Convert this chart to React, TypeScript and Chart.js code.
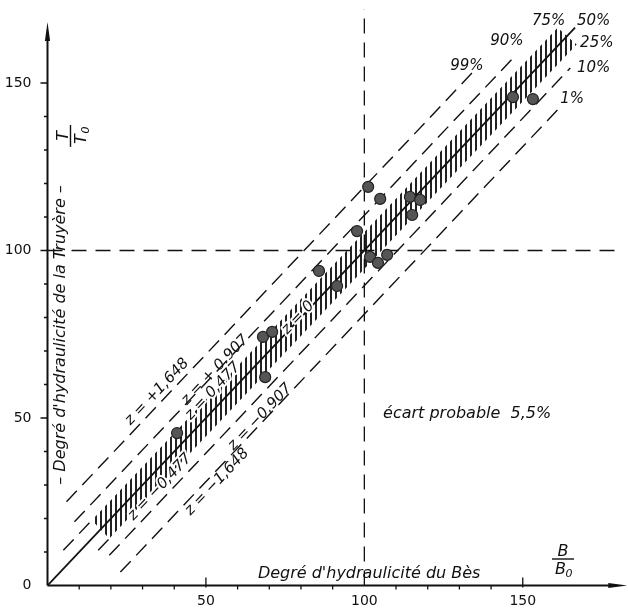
import { useEffect, useRef } from 'react';
import { Chart, registerables } from 'chart.js';

Chart.register(...registerables);

// ---- data ----
const pointsX = [101.2, 105.0, 97.7, 114.4, 117.6, 115.1, 101.8, 104.3, 107.2, 85.7, 91.4, 68.0, 70.9, 68.7, 40.9, 146.9, 153.2];
const pointsY = [119.0, 115.4, 105.8, 116.0, 115.1, 110.6, 98.1, 96.3, 98.7, 93.9, 89.4, 74.2, 75.7, 62.2, 45.5, 145.8, 145.2];

// lines y = x + offset  (z = +1,648 ... z = -1,648)
const lineOffsets = [19.0, 10.5, 5.5, 0, -5.5, -10.5, -19.0];
const lineStartX = [6, 8.5, 5, 0, 16, 19.5, 23];
const lineEndX = [135.5, 147, 14, 166.5, 19.5, 165, 162];
const lineDashed = [true, true, true, false, true, true, true];

// hatched band (z = ±0,477)
const bandOffset = 5.5;
const bandUpperX = [14, 161];
const bandLowerX = [19.5, 167];

const refX = 100;
const refY = 100;
const xTickLabels = [50, 100, 150];
const yTickLabels = [0, 50, 100, 150];
const minorTicks = [10, 20, 30, 40, 50, 60, 70, 80, 90, 100, 110, 120, 130, 140, 150];

const zLabels = ['z = +1,648', 'z = + 0,907', 'z = 0,477', 'z = 0', 'z = −0,477', 'z = −0,907', 'z = −1,648'];
const zLabelX = [34.6, 52.9, 52.2, 79.1, 35.5, 67.1, 53.5];
const zLabelY = [57.8, 64.3, 58.0, 79.9, 29.4, 50.3, 30.9];
const zLabelHalo = [false, false, true, true, true, false, false];

const pctLabels = ['99%', '90%', '75%', '50%', '25%', '10%', '1%'];
const pctX = [127.1, 139.7, 152.9, 167.1, 168.1, 167.1, 161.8];
const pctY = [153.9, 161.3, 167.3, 167.3, 160.7, 153.3, 144.0];

const ITAL = 'italic 15px "DejaVu Sans"';
const ITAL16 = 'italic 16px "DejaVu Sans"';

const decorPlugin = {
  id: 'decor',
  afterDraw(chart: any) {
    const ctx: CanvasRenderingContext2D = chart.ctx;
    const xs = chart.scales.x;
    const ys = chart.scales.y;
    const X = (v: number) => xs.getPixelForValue(v);
    const Y = (v: number) => ys.getPixelForValue(v);
    const angle = Math.atan2(Y(100) - Y(0), X(100) - X(0));
    ctx.save();
    ctx.fillStyle = '#111';
    ctx.strokeStyle = '#111';

    // axes
    ctx.lineWidth = 2;
    ctx.beginPath();
    ctx.moveTo(X(0), Y(0));
    ctx.lineTo(X(0), Y(165));
    ctx.moveTo(X(0), Y(0));
    ctx.lineTo(X(178), Y(0));
    ctx.stroke();
    // arrows
    const ay = Y(168.2);
    ctx.beginPath();
    ctx.moveTo(X(0), ay);
    ctx.lineTo(X(0) - 2.6, ay + 19);
    ctx.lineTo(X(0) + 2.6, ay + 19);
    ctx.closePath();
    ctx.fill();
    const ax = X(183);
    ctx.beginPath();
    ctx.moveTo(ax, Y(0));
    ctx.lineTo(ax - 19, Y(0) - 2.6);
    ctx.lineTo(ax - 19, Y(0) + 2.6);
    ctx.closePath();
    ctx.fill();

    // tick marks
    ctx.lineWidth = 1.3;
    ctx.beginPath();
    for (const v of minorTicks) {
      const major = yTickLabels.includes(v);
      ctx.moveTo(X(0) - (major ? 7 : 3.5), Y(v));
      ctx.lineTo(X(0), Y(v));
      const xm = xTickLabels.includes(v);
      if (v !== refX) {
        ctx.moveTo(X(v), Y(0) - (xm ? 8 : 0));
        ctx.lineTo(X(v), Y(0) + (xm ? 2 : 4));
      }
    }
    ctx.stroke();

    // z labels along lines
    for (let i = 0; i < zLabels.length; i++) {
      ctx.save();
      ctx.translate(X(zLabelX[i]), Y(zLabelY[i]));
      ctx.rotate(angle);
      ctx.font = ITAL;
      ctx.textAlign = 'center';
      ctx.textBaseline = 'middle';
      if (zLabelHalo[i]) {
        ctx.strokeStyle = '#fff';
        ctx.lineWidth = 4;
        ctx.lineJoin = 'round';
        ctx.strokeText(zLabels[i], 0, 0);
      }
      ctx.fillText(zLabels[i], 0, 0);
      ctx.restore();
    }

    // percentage labels
    ctx.font = ITAL;
    ctx.textAlign = 'left';
    ctx.textBaseline = 'alphabetic';
    for (let i = 0; i < pctLabels.length; i++) {
      ctx.fillText(pctLabels[i], X(pctX[i]), Y(pctY[i]));
    }

    // écart probable
    ctx.font = ITAL16;
    ctx.fillText('écart probable  5,5%', X(105.9), Y(49.9));

    // x axis title
    ctx.fillText("Degré d'hydraulicité du Bès", X(66.4), Y(2.2));

    const frac = (cx: number, cy: number, num: string, den: string, rot: number) => {
      ctx.save();
      ctx.translate(cx, cy);
      ctx.rotate(rot);
      ctx.font = ITAL16;
      ctx.textAlign = 'center';
      ctx.textBaseline = 'alphabetic';
      ctx.fillText(num, 0, -2);
      ctx.lineWidth = 1.4;
      ctx.beginPath();
      ctx.moveTo(-11, 0.5);
      ctx.lineTo(11, 0.5);
      ctx.stroke();
      ctx.textAlign = 'left';
      ctx.fillText(den, -8, 16);
      ctx.font = 'italic 11px "DejaVu Sans"';
      ctx.fillText('0', 2.5, 19);
      ctx.restore();
    };
    frac(X(162.7), Y(8.06), 'B', 'B', 0);

    // y axis title
    ctx.save();
    ctx.translate(X(4.3), Y(74.8));
    ctx.rotate(-Math.PI / 2);
    ctx.font = ITAL16;
    ctx.textAlign = 'center';
    ctx.textBaseline = 'middle';
    ctx.fillText("– Degré d'hydraulicité de la Truyère –", 0, 0);
    ctx.restore();
    frac(X(7.1), Y(134.2), 'T', 'T', -Math.PI / 2);

    ctx.restore();
  },
};

export default function App() {
  const ref = useRef<HTMLCanvasElement | null>(null);
  useEffect(() => {
    document.body.style.margin = '0';
    const canvas = ref.current!;
    const ctx = canvas.getContext('2d')!;
    const pc = document.createElement('canvas');
    pc.width = 5;
    pc.height = 5;
    const pctx = pc.getContext('2d')!;
    pctx.fillStyle = '#222';
    pctx.fillRect(0, 0, 2, 5);
    const pattern = ctx.createPattern(pc, 'repeat');

    const datasets: any[] = [];
    datasets.push({
      label: 'points',
      data: pointsX.map((x, i) => ({ x, y: pointsY[i] })),
      showLine: false,
      pointRadius: 5.5,
      pointBackgroundColor: '#555',
      pointBorderColor: '#222',
      pointBorderWidth: 1.2,
      order: 0,
    });
    for (let i = 0; i < lineOffsets.length; i++) {
      datasets.push({
        label: zLabels[i],
        data: [
          { x: lineStartX[i], y: lineStartX[i] + lineOffsets[i] },
          { x: lineEndX[i], y: lineEndX[i] + lineOffsets[i] },
        ],
        showLine: true,
        borderColor: '#111',
        borderWidth: lineDashed[i] ? 1.4 : 1.8,
        borderDash: lineDashed[i] ? [15, 8] : [],
        pointRadius: 0,
        fill: false,
        order: 1,
      });
    }
    datasets.push({
      label: 'ref x',
      data: [{ x: refX, y: 0 }, { x: refX, y: 172 }],
      showLine: true,
      borderColor: '#111',
      borderWidth: 1.3,
      borderDash: [15, 9],
      pointRadius: 0,
      order: 1,
    });
    datasets.push({
      label: 'ref y',
      data: [{ x: 0, y: refY }, { x: 179, y: refY }],
      showLine: true,
      borderColor: '#111',
      borderWidth: 1.3,
      borderDash: [15, 9],
      pointRadius: 0,
      order: 1,
    });
    datasets.push({
      label: 'band',
      data: [
        { x: bandUpperX[0], y: bandUpperX[0] + bandOffset },
        { x: bandUpperX[1], y: bandUpperX[1] + bandOffset },
        { x: bandLowerX[1], y: bandLowerX[1] - bandOffset },
        { x: bandLowerX[0], y: bandLowerX[0] - bandOffset },
      ],
      showLine: true,
      borderWidth: 0,
      borderColor: 'rgba(0,0,0,0)',
      backgroundColor: pattern,
      fill: 'shape',
      pointRadius: 0,
      order: 2,
    });

    const zeroPad = (s: any) => {
      s.paddingTop = 0;
      s.paddingBottom = 0;
      s.paddingLeft = 0;
      s.paddingRight = 0;
    };

    const chart = new Chart(canvas, {
      type: 'scatter',
      data: { datasets },
      options: {
        animation: false,
        responsive: false,
        devicePixelRatio: 1,
        layout: { padding: { left: 0, top: 9.3, right: 0.8, bottom: 0 } },
        plugins: { legend: { display: false }, tooltip: { enabled: false } },
        scales: {
          x: {
            type: 'linear',
            min: 0,
            max: 181.1,
            grid: { display: false },
            border: { display: false },
            ticks: {
              stepSize: 10,
              autoSkip: false,
              maxRotation: 0,
              padding: -1,
              color: '#111',
              font: { family: 'DejaVu Sans', size: 14 },
              callback: (v: any) => (xTickLabels.includes(v) ? String(v) : ''),
            },
            afterFit: (s: any) => {
              s.height = 23.5;
              zeroPad(s);
            },
          },
          y: {
            type: 'linear',
            min: 0,
            max: 172,
            grid: { display: false },
            border: { display: false },
            ticks: {
              stepSize: 10,
              autoSkip: false,
              padding: 8,
              color: '#111',
              font: { family: 'DejaVu Sans', size: 14 },
              callback: (v: any) => (yTickLabels.includes(v) ? String(v) : ''),
            },
            afterFit: (s: any) => {
              s.width = 47.5;
              zeroPad(s);
            },
          },
        },
      },
      plugins: [decorPlugin],
    });
    return () => chart.destroy();
  }, []);
  return (
    <div style={{ width: 628, height: 609 }}>
      <canvas ref={ref} width={628} height={609} style={{ display: 'block', width: 628, height: 609 }} />
    </div>
  );
}
